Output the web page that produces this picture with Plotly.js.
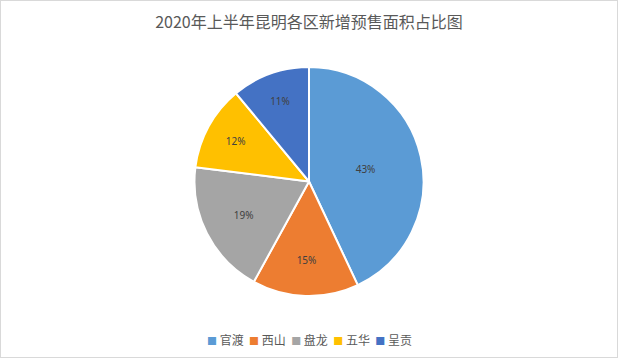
<!DOCTYPE html>
<html>
<head>
<meta charset="utf-8">
<script src="https://cdn.plot.ly/plotly-3.0.1.min.js"></script>
<style>
  html, body { margin: 0; padding: 0; background: #fff; }
  #chart { width: 616px; height: 356px; border: 1px solid #D9D9D9; }
</style>
</head>
<body>
<div id="chart"></div>
<script>
const categories = ['官渡', '西山', '盘龙', '五华', '呈贡'];
const shares = [43, 15, 19, 12, 11];
const colors = ['#5B9BD5', '#ED7D31', '#A5A5A5', '#FFC000', '#4472C4'];

const data = [{
  type: 'pie',
  labels: categories,
  values: shares,
  sort: false,
  direction: 'clockwise',
  rotation: 0,
  marker: { colors: colors, line: { color: '#FFFFFF', width: 2 } },
  textinfo: 'percent',
  texttemplate: '%{percent:.0%}',
  textposition: 'inside',
  insidetextorientation: 'horizontal',
  textfont: { family: 'Noto Sans, sans-serif', size: 10, color: '#404040' },
  hoverinfo: 'label+percent',
  showlegend: false
}];

// Compact Excel-style legend built from the category and colour arrays
const legendText = categories.map((c, i) =>
  `<span style="color:${colors[i]};font-size:10px">■</span>\u00a0${c}`
).join('\u00a0\u00a0');

const layout = {
  width: 616,
  height: 356,
  margin: { l: 0, r: 0, t: 66, b: 61 },
  paper_bgcolor: '#FFFFFF',
  title: {
    text: '2020年上半年昆明各区新增预售面积占比图',
    font: { family: 'Noto Sans CJK SC, sans-serif', size: 16, color: '#595959' },
    x: 0.5, xanchor: 'center',
    y: 1 - 21 / 356, yanchor: 'middle', yref: 'container'
  },
  showlegend: false,
  annotations: [{
    text: legendText,
    xref: 'paper', yref: 'paper',
    x: 0.5, xanchor: 'center',
    y: -0.19, yanchor: 'middle',
    showarrow: false,
    font: { family: 'Noto Sans CJK SC, sans-serif', size: 12, color: '#595959' }
  }]
};

Plotly.newPlot('chart', data, layout, { displayModeBar: false, staticPlot: true });
</script>
</body>
</html>
